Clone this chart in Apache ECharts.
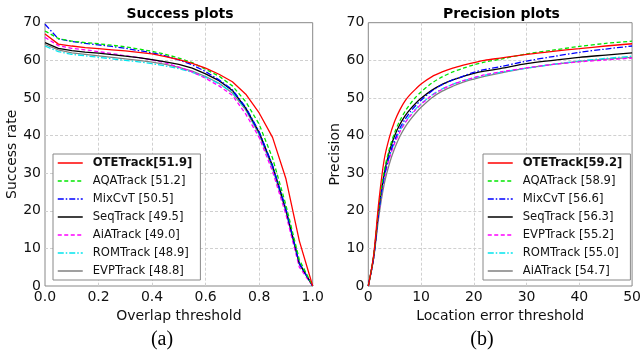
<!DOCTYPE html>
<html><head><meta charset="utf-8">
<script src="https://cdn.jsdelivr.net/npm/echarts@6/dist/echarts.min.js"></script>
<style>html,body{margin:0;padding:0;background:#fff}#c{width:644px;height:352px}</style>
</head><body><div id="c"></div>
<script>
// ---------- Success plot data (overlap thresholds) ----------
const successThresholds = [0,0.05,0.1,0.15,0.2,0.25,0.3,0.35,0.4,0.45,0.5,0.55,0.6,0.65,0.7,0.75,0.8,0.85,0.9,0.95,1.0];
const successNames = ['OTETrack[51.9]','AQATrack [51.2]','MixCvT [50.5]','SeqTrack [49.5]','AiATrack [49.0]','ROMTrack [48.9]','EVPTrack [48.8]'];
const succOTE = [67.0,64.3,63.8,63.4,63.1,62.8,62.5,62.1,61.7,61.0,60.2,59.2,57.9,56.3,54.3,51.0,46.0,39.5,28.5,12.0,0];
const succAQA = [67.8,65.8,65.1,64.7,64.4,64.0,63.6,63.0,62.4,61.6,60.6,59.4,57.6,55.8,53.2,49.0,43.0,34.0,21.5,7.0,0];
const succMix = [69.6,65.7,65.0,64.5,64.1,63.7,63.2,62.6,62.0,61.2,60.1,58.8,57.0,54.8,52.2,47.5,41.0,32.0,20.5,6.0,0];
const succSeq = [64.7,63.2,62.6,62.2,61.9,61.5,61.1,60.7,60.2,59.6,58.9,57.9,56.4,54.6,52.0,47.3,40.8,32.0,20.3,6.0,0];
const succAiA = [66.1,63.9,63.2,62.8,62.3,61.8,61.2,60.7,60.1,59.3,58.2,56.9,55.2,53.2,50.7,45.7,39.5,30.5,19.0,5.0,0];
const succROM = [63.8,62.3,61.6,61.2,60.8,60.4,60.0,59.6,59.1,58.5,57.8,56.8,55.5,53.8,51.5,47.0,40.5,31.5,20.0,6.0,0];
const succEVP = [64.2,62.8,62.0,61.6,61.2,60.8,60.4,60.0,59.5,58.9,58.1,57.1,55.7,53.9,51.3,46.8,40.3,31.3,19.8,5.8,0];

// ---------- Precision plot data (location error thresholds) ----------
const precisionThresholds = [0,1,2,3,4,5,6,7,8,9,10,12,14,16,18,20,22,25,30,35,40,45,50];
const precisionNames = ['OTETrack[59.2]','AQATrack [58.9]','MixCvT [56.6]','SeqTrack [56.3]','EVPTrack [55.2]','ROMTrack [55.0]','AiATrack [54.7]'];
const precOTE = [0,8.0,22.5,33.5,39.5,43.8,46.9,49.3,51.0,52.4,53.7,55.6,56.9,57.9,58.7,59.4,60.0,60.6,61.6,62.4,63.1,63.8,64.4];
const precAQA = [0,7.8,21.0,30.5,36.5,40.8,44.0,46.5,48.5,50.2,51.6,53.9,55.6,56.9,57.9,58.8,59.5,60.3,61.7,62.7,63.7,64.5,65.1];
const precMix = [0,7.5,20.0,29.0,34.8,38.8,42.0,44.4,46.4,48.0,49.4,51.8,53.5,54.8,55.8,56.8,57.5,58.3,59.8,61.0,62.1,63.0,63.8];
const precSeq = [0,7.6,20.5,29.8,35.8,40.0,43.0,45.3,47.1,48.6,49.9,52.0,53.6,54.8,55.7,56.5,57.1,57.8,59.1,60.0,60.8,61.4,62.0];
const precEVP = [0,7.4,19.5,28.5,34.0,38.0,41.0,43.4,45.3,46.9,48.3,50.6,52.3,53.6,54.6,55.4,56.1,56.9,58.0,58.9,59.6,60.1,60.6];
const precROM = [0,7.5,19.8,28.8,34.3,38.3,41.3,43.6,45.5,47.1,48.5,50.7,52.4,53.6,54.6,55.3,56.0,56.8,57.9,58.9,59.8,60.5,61.1];
const precAiA = [0,7.2,18.5,27.0,32.5,36.6,39.8,42.3,44.3,46.0,47.5,50.0,51.8,53.1,54.2,55.0,55.7,56.6,57.9,58.9,59.7,60.3,60.8];

const yTicks = [0,10,20,30,40,50,60,70];

// ---------- styles ----------
const FONT = '"DejaVu Sans", sans-serif';
const styles = [
  {color:'#ff0000', type:'solid'},
  {color:'#00e600', type:[4,2.5]},
  {color:'#0000ff', type:[6,2,1.5,2]},
  {color:'#000000', type:'solid'},
  {color:'#ff00ff', type:[4,2.5]},
  {color:'#00e5ee', type:[6,2,1.5,2]},
  {color:'#808080', type:'solid'}
];
const succData = [succOTE,succAQA,succMix,succSeq,succAiA,succROM,succEVP];
const precData = [precOTE,precAQA,precMix,precSeq,precEVP,precROM,precAiA];

function mkSeries(names, xs, data, idx) {
  return names.map((n, i) => ({
    name: n, type: 'line', xAxisIndex: idx, yAxisIndex: idx,
    data: xs.map((x, j) => [x, data[i][j]]),
    symbol: 'none', showSymbol: false, smooth: idx === 1 ? 0.3 : false,
    color: styles[i].color,
    lineStyle: {width: 1.3, color: styles[i].color, type: styles[i].type},
    z: 10 - i,
    animation: false
  }));
}

function mkX(idx, min, max, interval, name, fmt) {
  return {
    type: 'value', gridIndex: idx, min: min, max: max, interval: interval,
    axisLine: {show: false}, axisTick: {show: false},
    axisLabel: {fontSize: 14, fontFamily: FONT, color: '#111', margin: 4, formatter: fmt},
    splitLine: {show: true, showMinLine: false, showMaxLine: false, lineStyle: {color: '#d0d0d0', type: [3,2], width: 1}},
    name: name, nameLocation: 'middle', nameGap: 19,
    nameTextStyle: {fontSize: 14, fontFamily: FONT, color: '#111'}
  };
}
function mkY(idx, name, gap) {
  return {
    type: 'value', gridIndex: idx, min: yTicks[0], max: yTicks[yTicks.length-1], interval: 10,
    axisLine: {show: false}, axisTick: {show: false},
    axisLabel: {fontSize: 14, fontFamily: FONT, color: '#111', margin: 4},
    splitLine: {show: true, showMinLine: false, showMaxLine: false, lineStyle: {color: '#d0d0d0', type: [3,2], width: 1}},
    name: name, nameLocation: 'middle', nameGap: gap, nameRotate: 90,
    nameTextStyle: {fontSize: 14, fontFamily: FONT, color: '#111'}
  };
}
function mkLegend(names, left) {
  return {
    orient: 'vertical', left: left, top: 154,
    padding: [3, 8, 3, 4], itemWidth: 25, itemHeight: 10, itemGap: 6,
    backgroundColor: '#ffffff', borderColor: '#888', borderWidth: 1, borderRadius: 0,
    selectedMode: false,
    itemStyle: {opacity: 0},
    lineStyle: {width: 1.5},
    textStyle: {fontSize: 11.6, fontFamily: FONT, color: '#111', padding: [0,0,0,5]},
    data: names.map((n, i) => i === 0 ? {name: n, textStyle: {fontWeight: 'bold'}} : {name: n})
  };
}

const chart = echarts.init(document.getElementById('c'), null, {renderer: 'canvas'});
chart.setOption({
  animation: false,
  backgroundColor: '#fff',
  grid: [
    {left: 45, top: 22.7, width: 267.7, height: 263.3, show: true, borderColor: '#888', borderWidth: 1, backgroundColor: '#fff'},
    {left: 368.3, top: 22.7, width: 266, height: 263.3, show: true, borderColor: '#888', borderWidth: 1, backgroundColor: '#fff'}
  ],
  xAxis: [
    mkX(0, 0, 1, 0.2, 'Overlap threshold', v => v.toFixed(1)),
    mkX(1, 0, 50, 10, 'Location error threshold', v => String(v))
  ],
  yAxis: [mkY(0, 'Success rate', 18), mkY(1, 'Precision', 19)],
  legend: [mkLegend(successNames, 53), mkLegend(precisionNames, 483)],
  series: mkSeries(successNames, successThresholds, succData, 0)
    .concat(mkSeries(precisionNames, precisionThresholds, precData, 1)),
  graphic: [
    {type: 'text', x: 180, y: 14, style: {text: 'Success plots', font: 'bold 14px ' + FONT, fill: '#000', align: 'center', verticalAlign: 'middle'}},
    {type: 'text', x: 501.5, y: 14, style: {text: 'Precision plots', font: 'bold 14px ' + FONT, fill: '#000', align: 'center', verticalAlign: 'middle'}},
    {type: 'text', x: 162, y: 340, style: {text: '(a)', font: '20px "Liberation Serif", serif', fill: '#000', align: 'center', verticalAlign: 'middle'}},
    {type: 'text', x: 482, y: 340, style: {text: '(b)', font: '20px "Liberation Serif", serif', fill: '#000', align: 'center', verticalAlign: 'middle'}}
  ]
});
</script></body></html>
